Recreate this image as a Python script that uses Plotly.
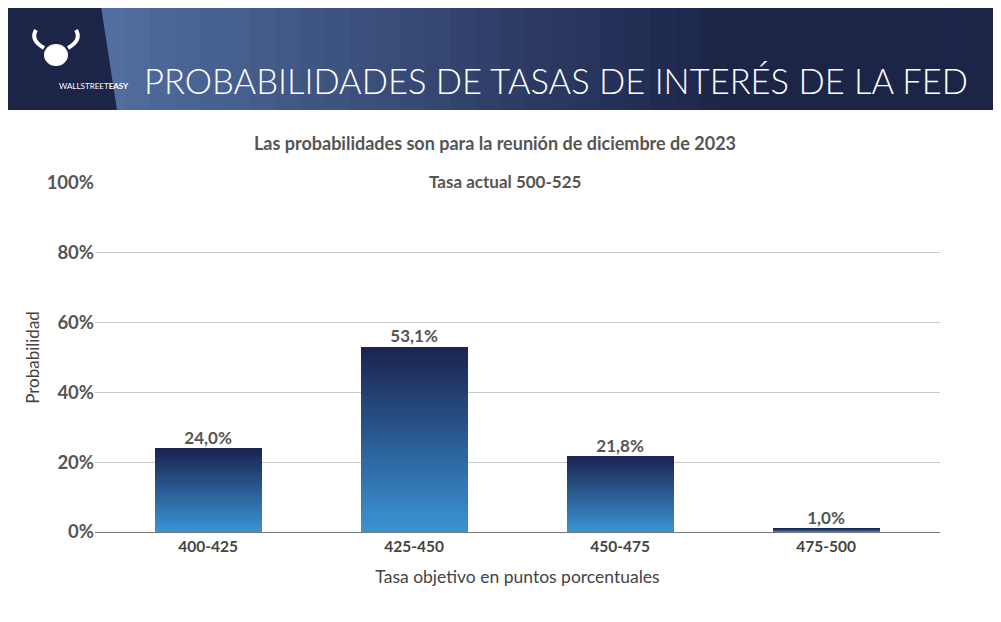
import plotly.graph_objects as go

categories = ["400-425", "425-450", "450-475", "475-500"]
values = [24.0, 53.1, 21.8, 1.0]
labels = ["24,0%", "53,1%", "21,8%", "1,0%"]
y_ticks = [0, 20, 40, 60, 80, 100]
y_ticktext = ["0%", "20%", "40%", "60%", "80%", "100%"]

OFF = 8  # page offset of the figure
W, H = 1001 - OFF, 622 - OFF
L, R, T, B = 95 - OFF, 940 - OFF, 183 - OFF, 532 - OFF

def px(x):
    return (x - OFF - L) / (R - L)

def py(y):
    return (B - (y - OFF)) / (B - T)

N = 30
top = (26, 35, 80)
bot = (58, 148, 212)

def mix(t):
    return "rgb(%d,%d,%d)" % tuple(round(bot[i] + (top[i] - bot[i]) * t) for i in range(3))

fig = go.Figure()
for k in range(N):
    fig.add_trace(go.Bar(
        x=categories, y=[v / N for v in values], width=0.52,
        marker=dict(color=mix((k + 0.5) / N), line=dict(width=0)),
        hoverinfo="skip", showlegend=False))
fig.add_trace(go.Scatter(
    x=categories, y=values, text=["<b>%s</b>" % s for s in labels], mode="text",
    textposition="top center",
    textfont=dict(size=17, color="#555555", family="Lato"), showlegend=False))

shapes = []
steps = 40
for i in range(steps):
    t = i / (steps - 1)
    c0 = (80, 110, 160); c1 = (28, 36, 72)
    col = "rgb(%d,%d,%d)" % tuple(round(c0[j] + (c1[j] - c0[j]) * min(1, t * 1.6)) for j in range(3))
    shapes.append(dict(type="rect", xref="paper", yref="paper",
                       x0=px(100 + i * 1001 / steps), x1=px(100 + (i + 1.05) * 1001 / steps),
                       y0=py(110), y1=py(0), fillcolor=col, line=dict(width=0), layer="below"))
shapes.append(dict(type="path", xref="paper", yref="paper",
                   path="M %f %f L %f %f L %f %f L %f %f Z" % (px(0), py(110), px(117), py(110),
                                                             px(100), py(0), px(0), py(0)),
                   fillcolor="#1c2447", line=dict(width=0)))
shapes.append(dict(type="circle", xref="paper", yref="paper",
                   x0=px(44), x1=px(68), y0=py(66), y1=py(44),
                   fillcolor="white", line=dict(width=0)))
shapes.append(dict(type="path", xref="paper", yref="paper",
                   path="M %f %f Q %f %f %f %f" % (px(44), py(48), px(30), py(40), px(36), py(30)),
                   line=dict(color="white", width=4)))
shapes.append(dict(type="path", xref="paper", yref="paper",
                   path="M %f %f Q %f %f %f %f" % (px(68), py(48), px(82), py(40), px(76), py(30)),
                   line=dict(color="white", width=4)))

annotations = [
    dict(text="PROBABILIDADES DE TASAS DE INTERÉS DE LA FED", x=px(556), y=py(58),
         xref="paper", yref="paper", showarrow=False,
         font=dict(size=34.5, color="white", family="Lato", weight=300)),
    dict(text="WALLSTREET<b>EASY</b>", x=px(57), y=py(79), xref="paper", yref="paper",
         showarrow=False, font=dict(size=8, color="white", family="Lato")),
    dict(text="<b>Las probabilidades son para la reunión de diciembre de 2023</b>", x=px(495), y=py(130),
         xref="paper", yref="paper", showarrow=False, font=dict(size=18, color="#555555", family="Lato")),
    dict(text="<b>Tasa actual 500-525</b>", x=px(505), y=py(169),
         xref="paper", yref="paper", showarrow=False, font=dict(size=17, color="#555555", family="Lato")),
]

fig.update_layout(
    width=W, height=H, barmode="stack",
    paper_bgcolor="white", plot_bgcolor="white",
    margin=dict(l=L, r=W - R, t=T, b=H - B, autoexpand=False),
    shapes=shapes, annotations=annotations,
    xaxis=dict(range=[-0.549, 3.553],
               tickfont=dict(size=15.5, color="#444444", family="Lato", weight="bold"), showline=True,
               linecolor="#777777", linewidth=1, ticks="", showgrid=False, automargin=False,
               title=dict(text="Tasa objetivo en puntos porcentuales",
                          font=dict(size=17.5, color="#444444", family="Lato"), standoff=17)),
    yaxis=dict(range=[0, 100], tickvals=y_ticks, ticktext=y_ticktext, showgrid=True,
               gridcolor="#c8c8c8", zeroline=False, ticks="", automargin=False,
               tickfont=dict(size=18.5, color="#555555", family="Lato", weight="bold"),
               title=dict(text="Probabilidad", font=dict(size=17, color="#444444", family="Lato"), standoff=2)),
)
fig.write_html("out.html")
